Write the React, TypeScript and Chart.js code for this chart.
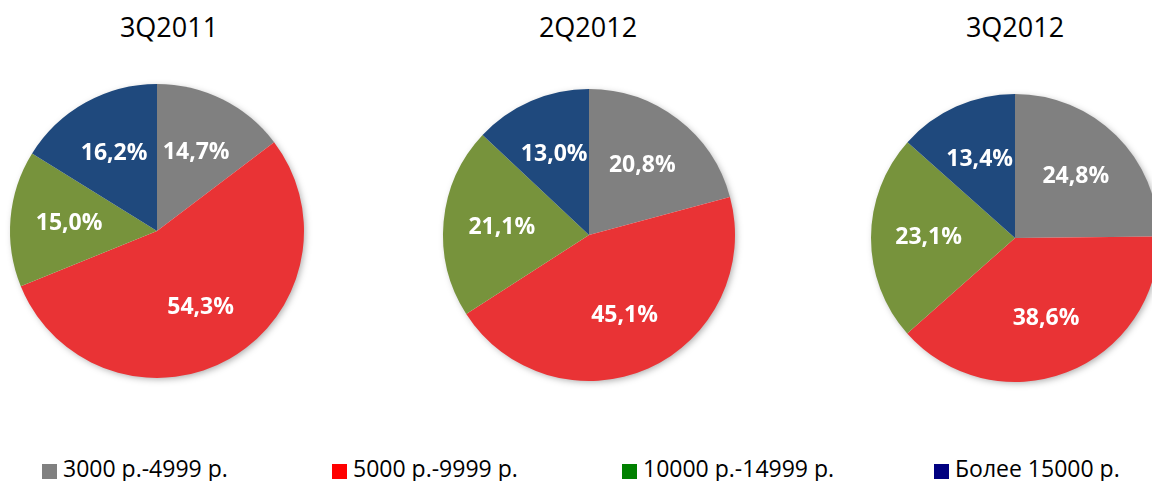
import React, { useEffect, useRef } from "react";
import { Chart, registerables } from "chart.js";

Chart.register(...registerables);

// ---- data ----
const categories = ["3000 р.-4999 р.", "5000 р.-9999 р.", "10000 р.-14999 р.", "Более 15000 р."];
const periods = ["3Q2011", "2Q2012", "3Q2012"];
const values3Q2011 = [14.7, 54.3, 15.0, 16.2];
const values2Q2012 = [20.8, 45.1, 21.1, 13.0];
const values3Q2012 = [24.8, 38.6, 23.1, 13.4];
const seriesValues = [values3Q2011, values2Q2012, values3Q2012];

// ---- styles ----
const sliceColors = ["#808080", "#E93335", "#77933C", "#1F497D"];
const legendColors = ["#808080", "#FF0000", "#008000", "#000080"];
const FONT = "'Open Sans', 'DejaVu Sans', sans-serif";

// ---- layout ----
const pieLayout = [
  { cx: 157, cy: 231, r: 147, titleX: 169 },
  { cx: 589, cy: 235, r: 146, titleX: 588 },
  { cx: 1015, cy: 238, r: 144, titleX: 1015 },
];
const legendX = [42, 332, 622, 934];
const PAD = 10;
const LABEL_FRACTION = 0.6;

const shadowPlugin = {
  id: "pieShadow",
  beforeDatasetsDraw(chart: any) {
    const meta = chart.getDatasetMeta(0);
    const arc = meta.data[0];
    if (!arc) return;
    const { x, y, outerRadius } = arc.getProps(["x", "y", "outerRadius"], true);
    const ctx = chart.ctx;
    ctx.save();
    ctx.shadowColor = "rgba(0,0,0,0.35)";
    ctx.shadowBlur = 7;
    ctx.shadowOffsetX = 2;
    ctx.shadowOffsetY = 2;
    ctx.beginPath();
    ctx.arc(x, y, outerRadius - 1, 0, Math.PI * 2);
    ctx.fillStyle = "#ffffff";
    ctx.fill();
    ctx.restore();
  },
};

const labelPlugin = {
  id: "pieLabels",
  afterDatasetsDraw(chart: any) {
    const meta = chart.getDatasetMeta(0);
    const data = chart.data.datasets[0].data as number[];
    const ctx = chart.ctx;
    ctx.save();
    ctx.font = `bold 23px ${FONT}`;
    ctx.fillStyle = "#ffffff";
    ctx.textAlign = "center";
    ctx.textBaseline = "middle";
    meta.data.forEach((arc: any, i: number) => {
      const { x, y, startAngle, endAngle, outerRadius } = arc.getProps(
        ["x", "y", "startAngle", "endAngle", "outerRadius"],
        true
      );
      const mid = (startAngle + endAngle) / 2;
      const px = x + Math.cos(mid) * outerRadius * LABEL_FRACTION;
      const py = y + Math.sin(mid) * outerRadius * LABEL_FRACTION;
      const text = data[i].toFixed(1).replace(".", ",") + "%";
      ctx.fillText(text, px, py);
    });
    ctx.restore();
  },
};

function PieChart({ values, layout }: { values: number[]; layout: { cx: number; cy: number; r: number } }) {
  const ref = useRef<HTMLCanvasElement>(null);
  const size = layout.r * 2 + PAD * 2;
  useEffect(() => {
    const chart = new Chart(ref.current as HTMLCanvasElement, {
      type: "pie",
      data: {
        labels: categories,
        datasets: [{ data: values, backgroundColor: sliceColors, borderWidth: 0 }],
      },
      options: {
        responsive: false,
        animation: false,
        devicePixelRatio: 1,
        layout: { padding: PAD },
        plugins: {
          legend: { display: false },
          tooltip: { enabled: false },
          title: { display: false },
        },
      },
      plugins: [shadowPlugin, labelPlugin],
    } as any);
    return () => chart.destroy();
  }, []);
  return (
    <canvas
      ref={ref}
      width={size}
      height={size}
      style={{
        position: "absolute",
        left: layout.cx - layout.r - PAD,
        top: layout.cy - layout.r - PAD,
        width: size,
        height: size,
      }}
    />
  );
}

export default function App() {
  return (
    <div
      style={{
        position: "fixed",
        left: 0,
        top: 0,
        width: 1152,
        height: 481,
        overflow: "hidden",
        background: "#ffffff",
        fontFamily: FONT,
      }}
    >
      {periods.map((p, i) => (
        <div
          key={"t" + p}
          style={{
            position: "absolute",
            left: pieLayout[i].titleX - 120,
            width: 240,
            top: 13,
            fontSize: 27,
            lineHeight: "27px",
            textAlign: "center",
            color: "#000",
          }}
        >
          {p}
        </div>
      ))}
      {periods.map((p, i) => (
        <PieChart key={"c" + p} values={seriesValues[i]} layout={pieLayout[i]} />
      ))}
      {categories.map((c, i) => (
        <div key={"l" + i}>
          <div
            style={{
              position: "absolute",
              left: legendX[i],
              top: 464,
              width: 15,
              height: 15,
              background: legendColors[i],
            }}
          />
          <div
            style={{
              position: "absolute",
              left: legendX[i] + 21,
              top: 457,
              fontSize: 23,
              lineHeight: "23px",
              whiteSpace: "nowrap",
              color: "#000",
            }}
          >
            {c}
          </div>
        </div>
      ))}
    </div>
  );
}
